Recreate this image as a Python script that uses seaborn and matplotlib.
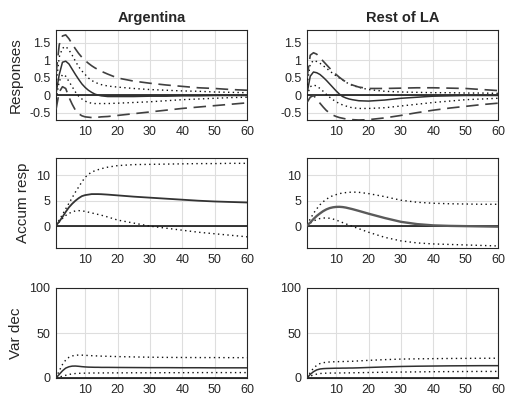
import matplotlib
matplotlib.use("Agg")
import matplotlib.pyplot as plt
import seaborn as sns
import numpy as np
import pandas as pd

# ---------------- data ----------------
horizon = [1, 2, 3, 4, 5, 6, 7, 8, 9, 10, 11, 12, 13, 14, 15, 17, 20, 25, 30, 35, 40, 45, 50, 55, 60]
countries = ["Argentina", "Rest of LA"]
row_labels = ["Responses", "Accum resp", "Var dec"]
xticks = [10, 20, 30, 40, 50, 60]

# Impulse responses
arg_irf_med = [0.05, 0.6, 0.95, 0.98, 0.9, 0.75, 0.6, 0.46, 0.33, 0.23, 0.15, 0.09, 0.04, 0.01, -0.01, -0.03, -0.03, -0.03, -0.02, -0.02, -0.01, -0.01, 0.0, 0.0, 0.0]
arg_irf_in_hi = [0.3, 1.1, 1.35, 1.4, 1.3, 1.15, 0.98, 0.82, 0.7, 0.6, 0.5, 0.43, 0.38, 0.34, 0.31, 0.27, 0.24, 0.2, 0.17, 0.15, 0.13, 0.12, 0.1, 0.09, 0.08]
arg_irf_in_lo = [-0.1, 0.4, 0.6, 0.55, 0.4, 0.25, 0.1, -0.02, -0.1, -0.16, -0.2, -0.22, -0.23, -0.23, -0.23, -0.23, -0.22, -0.2, -0.18, -0.15, -0.12, -0.1, -0.08, -0.06, -0.05]
arg_irf_out_hi = [0.6, 1.45, 1.7, 1.73, 1.62, 1.47, 1.33, 1.2, 1.09, 1.0, 0.92, 0.85, 0.79, 0.74, 0.69, 0.61, 0.5, 0.41, 0.35, 0.3, 0.26, 0.22, 0.2, 0.17, 0.15]
arg_irf_out_lo = [-0.4, 0.1, 0.25, 0.2, -0.05, -0.25, -0.42, -0.52, -0.58, -0.61, -0.62, -0.63, -0.63, -0.62, -0.61, -0.6, -0.57, -0.52, -0.47, -0.42, -0.37, -0.33, -0.29, -0.25, -0.21]

rla_irf_med = [0.05, 0.55, 0.67, 0.65, 0.6, 0.52, 0.43, 0.33, 0.23, 0.13, 0.04, -0.03, -0.07, -0.1, -0.12, -0.15, -0.16, -0.13, -0.08, -0.05, -0.02, -0.01, 0.0, 0.0, 0.0]
rla_irf_in_hi = [0.3, 0.9, 1.0, 0.97, 0.92, 0.85, 0.78, 0.7, 0.63, 0.56, 0.5, 0.44, 0.38, 0.33, 0.29, 0.23, 0.17, 0.12, 0.1, 0.09, 0.08, 0.08, 0.07, 0.07, 0.06]
rla_irf_in_lo = [0.0, 0.25, 0.3, 0.27, 0.2, 0.12, 0.03, -0.05, -0.12, -0.18, -0.23, -0.27, -0.3, -0.33, -0.35, -0.37, -0.37, -0.35, -0.3, -0.25, -0.2, -0.16, -0.12, -0.1, -0.08]
rla_irf_out_hi = [0.5, 1.15, 1.22, 1.18, 1.08, 0.98, 0.88, 0.78, 0.68, 0.6, 0.52, 0.45, 0.39, 0.34, 0.3, 0.24, 0.2, 0.2, 0.21, 0.22, 0.22, 0.21, 0.2, 0.17, 0.14]
rla_irf_out_lo = [-0.2, -0.05, 0.0, -0.1, -0.22, -0.33, -0.43, -0.5, -0.56, -0.6, -0.63, -0.65, -0.67, -0.68, -0.69, -0.7, -0.69, -0.64, -0.57, -0.49, -0.42, -0.36, -0.31, -0.26, -0.22]

# Accumulated responses
arg_acc_med = [0.1, 0.9, 1.8, 2.8, 3.7, 4.4, 5.0, 5.5, 5.9, 6.1, 6.2, 6.3, 6.3, 6.3, 6.28, 6.2, 6.05, 5.8, 5.6, 5.4, 5.2, 5.0, 4.85, 4.75, 4.65]
arg_acc_hi = [0.2, 1.2, 2.3, 3.4, 4.5, 5.6, 6.7, 7.7, 8.7, 9.6, 10.2, 10.6, 10.9, 11.1, 11.3, 11.6, 11.9, 12.1, 12.15, 12.2, 12.25, 12.3, 12.3, 12.35, 12.35]
arg_acc_lo = [0.0, 0.8, 1.5, 2.1, 2.5, 2.8, 3.0, 3.05, 3.0, 2.9, 2.75, 2.6, 2.45, 2.3, 2.15, 1.8, 1.2, 0.6, 0.0, -0.4, -0.8, -1.2, -1.5, -1.8, -2.1]

rla_acc_med = [0.1, 0.7, 1.4, 2.0, 2.5, 2.95, 3.3, 3.55, 3.7, 3.78, 3.8, 3.75, 3.65, 3.5, 3.35, 3.0, 2.45, 1.6, 0.85, 0.4, 0.15, 0.05, 0.0, -0.05, -0.1]
rla_acc_hi = [0.3, 1.4, 2.5, 3.4, 4.2, 4.8, 5.3, 5.7, 6.0, 6.2, 6.4, 6.5, 6.6, 6.65, 6.7, 6.65, 6.4, 5.8, 5.1, 4.7, 4.5, 4.4, 4.35, 4.3, 4.3]
rla_acc_lo = [0.0, 0.6, 1.0, 1.3, 1.5, 1.6, 1.6, 1.55, 1.4, 1.2, 0.95, 0.7, 0.45, 0.2, -0.05, -0.5, -1.2, -2.2, -2.9, -3.3, -3.5, -3.6, -3.7, -3.8, -3.9]

# Variance decomposition
arg_vd_med = [0, 4, 8, 11, 12.5, 13.2, 13.3, 13, 12.6, 12.3, 12.1, 12, 11.9, 11.9, 11.8, 11.8, 11.7, 11.6, 11.5, 11.5, 11.4, 11.4, 11.3, 11.3, 11.3]
arg_vd_hi = [0, 8, 15, 20, 23, 24.5, 25.3, 25.5, 25.4, 25.2, 25, 24.8, 24.6, 24.5, 24.3, 24.1, 23.8, 23.4, 23.1, 22.9, 22.8, 22.7, 22.7, 22.6, 22.6]
arg_vd_lo = [0, 1, 2, 3, 4, 4.5, 5, 5.2, 5.3, 5.4, 5.5, 5.5, 5.6, 5.6, 5.6, 5.7, 5.7, 5.8, 5.8, 5.9, 5.9, 6, 6, 6, 6]

rla_vd_med = [0, 4, 7, 9, 10, 10.4, 10.6, 10.7, 10.8, 10.9, 10.9, 11, 11, 11.1, 11.1, 11.3, 11.7, 12.3, 12.8, 13.1, 13.3, 13.5, 13.6, 13.7, 13.7]
rla_vd_hi = [0, 6, 11, 14, 16, 17, 17.5, 17.8, 18, 18.1, 18.2, 18.3, 18.4, 18.5, 18.6, 19, 19.6, 20.4, 21, 21.3, 21.5, 21.7, 21.8, 21.9, 22]
rla_vd_lo = [0, 2, 3.5, 4.3, 5, 5.2, 5.4, 5.5, 5.5, 5.5, 5.6, 5.6, 5.7, 5.7, 5.8, 5.9, 6.1, 6.4, 6.6, 6.8, 7, 7.1, 7.2, 7.3, 7.3]

irf_yticks = [-0.5, 0, 0.5, 1, 1.5]
irf_yticklabels = ["-0.5", "0", "0.5", "1", "1.5"]
acc_yticks = [0, 5, 10]
vd_yticks = [0, 50, 100]

# ---------------- style ----------------
sns.set_theme(style="white")
plt.rcParams["font.family"] = ["Liberation Sans", "DejaVu Sans"]
TXT = "#262626"

fig = plt.figure(figsize=(5.07, 3.99), dpi=100)
W, H = 507.0, 399.0
col_left = [56, 307]
row_tb = [(30, 120), (158, 248), (288, 378)]
ax_w = 191

DOT = (0, (1, 2.4))
DASH = (0, (7.5, 4))

panels = {
    (0, 0): dict(med=arg_irf_med, in_hi=arg_irf_in_hi, in_lo=arg_irf_in_lo, out_hi=arg_irf_out_hi, out_lo=arg_irf_out_lo),
    (0, 1): dict(med=rla_irf_med, in_hi=rla_irf_in_hi, in_lo=rla_irf_in_lo, out_hi=rla_irf_out_hi, out_lo=rla_irf_out_lo),
    (1, 0): dict(med=arg_acc_med, in_hi=arg_acc_hi, in_lo=arg_acc_lo),
    (1, 1): dict(med=rla_acc_med, in_hi=rla_acc_hi, in_lo=rla_acc_lo),
    (2, 0): dict(med=arg_vd_med, in_hi=arg_vd_hi, in_lo=arg_vd_lo),
    (2, 1): dict(med=rla_vd_med, in_hi=rla_vd_hi, in_lo=rla_vd_lo),
}
ylims = [(-0.7, 1.87), (-4.3, 13.4), (0, 100)]

for (r, c), series in panels.items():
    top, bot = row_tb[r]
    ax = fig.add_axes([col_left[c] / W, 1 - bot / H, ax_w / W, (bot - top) / H])
    df = pd.DataFrame({"h": horizon, **series})
    ax.axhline(0, color="black", lw=1.1, zorder=2)
    if r == 1:
        med_color = "#333333" if c == 0 else "#5a5a5a"
        med_lw = 1.3 if c == 0 else 1.7
    else:
        med_color, med_lw = "#303030", 1.1
    sns.lineplot(data=df, x="h", y="med", ax=ax, color=med_color, lw=med_lw, zorder=4)
    for k in ["in_hi", "in_lo"]:
        sns.lineplot(data=df, x="h", y=k, ax=ax, color="#111111", lw=1.0, linestyle=DOT, zorder=3)
    for k in ["out_hi", "out_lo"]:
        if k in series:
            sns.lineplot(data=df, x="h", y=k, ax=ax, color="#404040", lw=1.2, linestyle=DASH, zorder=3)
    ax.set_xlim(1, 60)
    ax.set_ylim(*ylims[r])
    ax.set_xticks(xticks)
    ax.set_xticklabels([str(v) for v in xticks])
    if r == 0:
        ax.set_yticks(irf_yticks)
        ax.set_yticklabels(irf_yticklabels)
    elif r == 1:
        ax.set_yticks(acc_yticks)
        ax.set_yticklabels([str(v) for v in acc_yticks])
    else:
        ax.set_yticks(vd_yticks)
        ax.set_yticklabels([str(v) for v in vd_yticks])
    ax.grid(True, color="#dedede", lw=0.8, zorder=0)
    ax.set_axisbelow(True)
    for s in ax.spines.values():
        s.set_color(TXT)
        s.set_linewidth(0.8)
        s.set_visible(True)
    ax.tick_params(axis="both", labelsize=9, colors=TXT, length=0, pad=4)
    ax.set_xlabel("")
    if c == 0:
        ax.set_ylabel(row_labels[r], fontsize=11, color=TXT, labelpad=5)
    else:
        ax.set_ylabel("")
    if r == 0:
        ax.set_title(countries[c], fontsize=10.5, fontweight="bold", color=TXT, pad=6)

fig.savefig("out.png", dpi=100)
